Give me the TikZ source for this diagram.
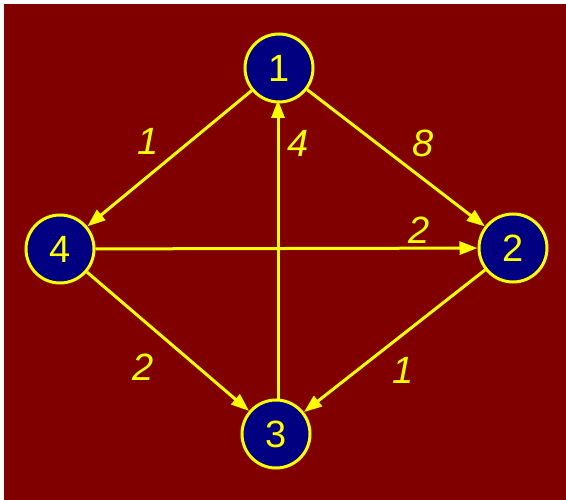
\documentclass[tikz,border=0pt]{standalone}
\usepackage{fontspec}
\setmainfont{Liberation Sans}
\usetikzlibrary{arrows.meta}
\definecolor{GraphRed}{RGB}{128,0,0}
\definecolor{GraphNavy}{RGB}{0,0,128}
\definecolor{GraphYellow}{RGB}{255,255,0}
\tikzset{
  city/.style={circle,draw=GraphYellow,fill=GraphNavy,line width=3pt,minimum size=68pt,inner sep=0pt,
    text=GraphYellow,font=\fontsize{38}{38}\selectfont},
  road/.style={draw=GraphYellow,line width=3pt,-{Triangle[length=18pt,width=13pt]}},
  cost/.style={text=GraphYellow,font=\fontsize{38}{38}\selectfont\itshape},
}
\begin{document}
\begin{tikzpicture}[x=1pt,y=-1pt]
\fill[white] (0,0) rectangle (566,500);
\fill[GraphRed] (4,4) rectangle (566,500);
% vertices
\node[city] (n1) at (279,68) {1};
\node[city] (n2) at (513,248) {2};
\node[city] (n3) at (276,434) {3};
\node[city] (n4) at (60,249) {4};
\coordinate (n3top) at (278,400);
\coordinate (n1bot) at (278,100);
% arcs
\draw[road] (n1) -- (n4);
\draw[road] (n1) -- (n2);
\draw[road] (n3top) -- (n1bot);
\draw[road] (n4) -- (n2);
\draw[road] (n4) -- (n3);
\draw[road] (n2) -- (n3);
% weights
\node[cost] (w14) at (148,141) {1};
\node[cost] (w31) at (298,143) {4};
\node[cost] (w12) at (423,143) {8};
\node[cost] (w42) at (419,230) {2};
\node[cost] (w43) at (143,367) {2};
\node[cost] (w23) at (403,370) {1};
\end{tikzpicture}
\end{document}
